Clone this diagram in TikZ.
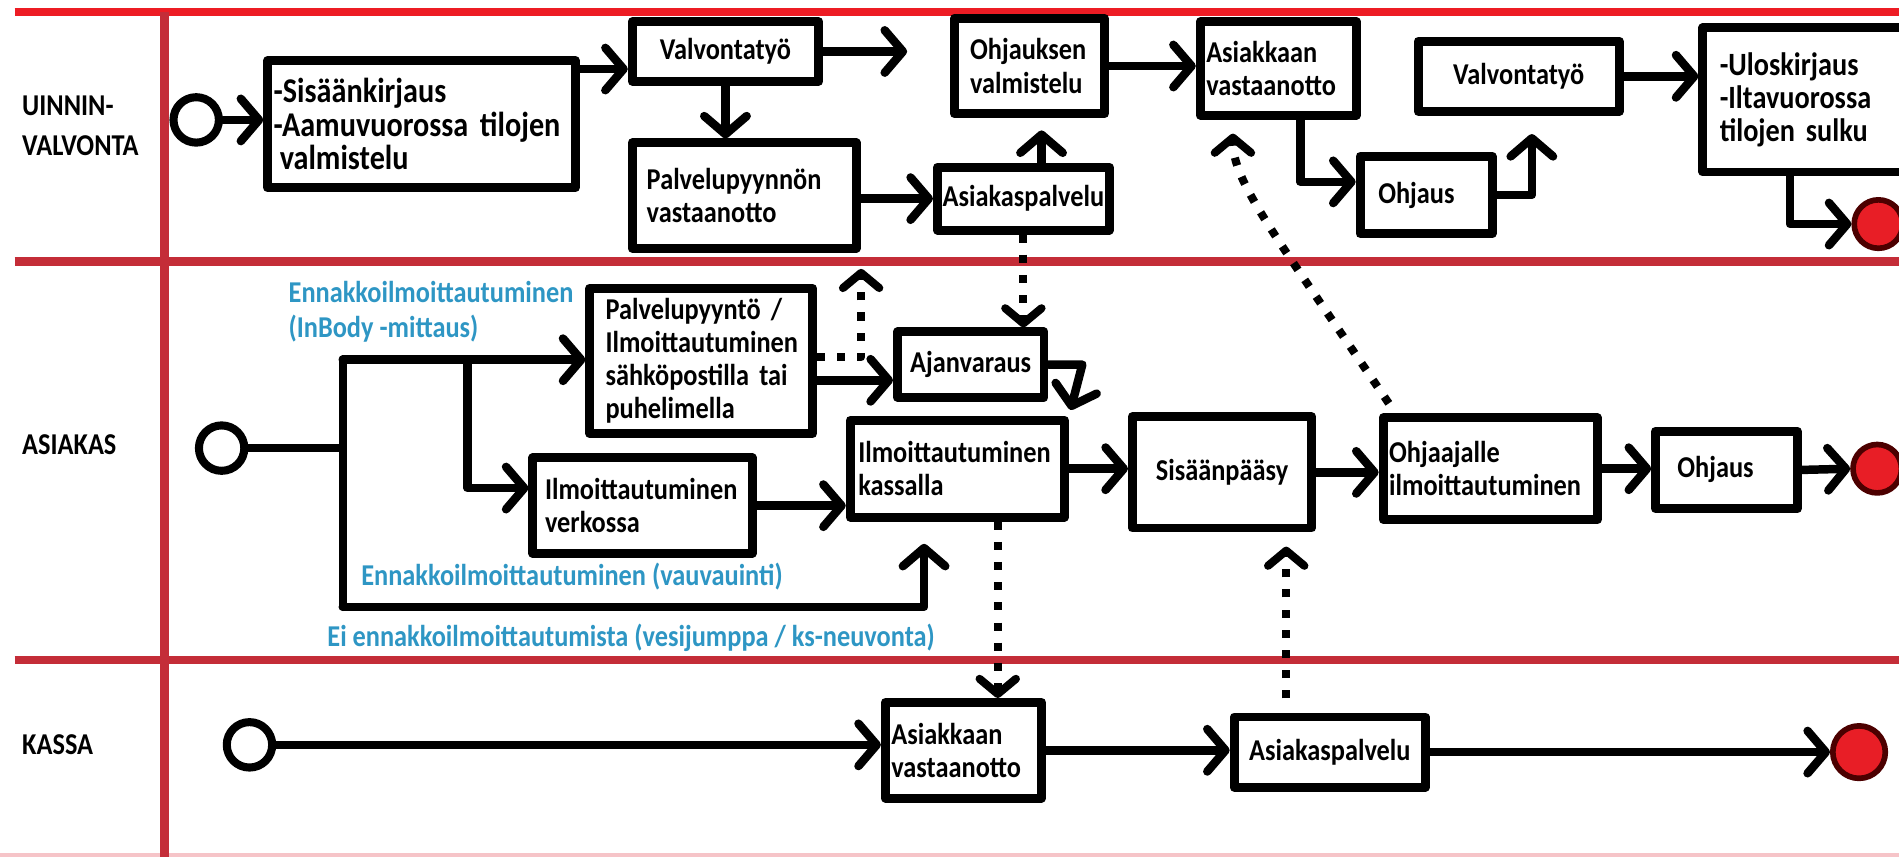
\documentclass[tikz,border=0pt]{standalone}
\usepackage{fontspec}
\setmainfont{Carlito}[FakeStretch=0.87]
\usetikzlibrary{arrows.meta}
\definecolor{lanered}{RGB}{237,28,36}
\definecolor{lanedark}{RGB}{196,45,56}
\definecolor{lanepink}{RGB}{246,196,200}
\definecolor{noteblue}{RGB}{46,150,196}
\definecolor{endred}{RGB}{232,30,38}

\begin{document}
\begin{tikzpicture}[line cap=round,line join=round,x=0.6pt,y=-0.6pt,
  box/.style={draw,line width=4.4pt,inner sep=0pt,align=center,font=\bfseries\fontsize{15}{16.5}\selectfont},
  startc/.style={circle,draw,line width=4pt,inner sep=0pt,minimum size=22.5pt},
  endc/.style={circle,draw=black!70!red,fill=endred,line width=2.8pt,inner sep=0pt,minimum size=24pt},
  arr/.style={line width=4.2pt,-{Straight Barb[length=9pt,width=21pt,round]}},
  dotarr/.style={line width=4pt,line cap=butt,dash pattern=on 4pt off 6pt,-{Straight Barb[length=7.5pt,width=18pt,round]}},
  lane/.style={anchor=west,align=left,inner sep=0pt,font=\bfseries\fontsize{15}{20}\selectfont},
  note/.style={anchor=west,align=left,inner sep=0pt,text=noteblue,font=\bfseries\fontsize{15}{17.4}\selectfont}]
\useasboundingbox (0,0) rectangle (1568,708);
\clip (0,0) rectangle (1568,708);
% lanes
\draw[lanepink,line width=2pt] (0,706) -- (1568,706);
\draw[lanered,line width=4pt,line cap=butt] (12,10) -- (1568,10);
\draw[lanedark,line width=4.2pt,line cap=butt] (12,216) -- (1568,216);
\draw[lanedark,line width=4.2pt,line cap=butt] (12,545) -- (1568,545);
\draw[lanedark,line width=4.2pt,line cap=butt] (136,10) -- (136,708);
\node[lane] (lane1) at (18,104) {UINNIN-\\VALVONTA};
\node[lane] (lane2) at (18,367) {ASIAKAS};
\node[lane] (lane3) at (18,615) {KASSA};
% uinninvalvonta
\node[startc] (c1) at (162,99) {};
\node[box,inner xsep=3pt,text width=146.4pt,minimum height=63pt,align=left,font=\bfseries\fontsize{17.2}{16.5}\selectfont] (sisaan) at (348,102.5) {-Sisäänkirjaus\\-Aamuvuorossa tilojen\\\hspace*{3pt}valmistelu};
\node[box,minimum width=92.4pt,minimum height=29.4pt] (valv1) at (599,42.5) {Valvontatyö};
\node[box,inner xsep=7.2pt,text width=96.6pt,minimum height=52.2pt,align=left] (palvpyy) at (614.5,161.5) {Palvelupyynnön\\vastaanotto};
\node[box,minimum width=85.2pt,minimum height=31.2pt] (asp1) at (845,164) {Asiakaspalvelu};
\node[box,inner xsep=7.8pt,text width=58.8pt,minimum height=47.4pt,align=left] (ohjval) at (850,54.5) {Ohjauksen\\valmistelu};
\node[box,inner xsep=3pt,text width=71.4pt,minimum height=46.2pt,align=left] (asvast1) at (1055.5,56.5) {Asiakkaan\\vastaanotto};
\node[box,inner xsep=9pt,text width=47.4pt,minimum height=38.4pt,align=left] (ohjaus1) at (1177.5,161) {Ohjaus};
\node[box,minimum width=99.6pt,minimum height=34.8pt] (valv2) at (1254,63) {Valvontatyö};
\node[box,inner xsep=8.4pt,text width=99.6pt,minimum height=71.4pt,align=left,font=\bfseries\fontsize{16.1}{16.5}\selectfont] (ulos) at (1503,82.5) {-Uloskirjaus\\-Iltavuorossa\\tilojen sulku};
\node[endc] (end1) at (1551,185) {};
\coordinate (v1end) at (749,42.5);
\draw[arr] (c1.east) -- (sisaan.west |- c1.east);
\draw[arr] (sisaan.east |- 0,57) -- (valv1.west |- 0,57);
\draw[arr] (valv1.east) -- (v1end);
\draw[arr] (valv1.south) -- (valv1.south |- palvpyy.north);
\draw[arr] (palvpyy.east |- asp1.west) -- (asp1.west);
\draw[arr,shorten >=6pt] ([xshift=9pt]asp1.north) -- ([xshift=9pt]asp1.north |- ohjval.south);
\draw[arr] (ohjval.east) -- (ohjval.east -| asvast1.west);
\draw[arr] ([xshift=11pt]asvast1.south) |- ([yshift=6.5pt]ohjaus1.west);
\draw[arr,shorten >=9pt] (ohjaus1.east) -| ([xshift=6.5pt]valv2.south);
\draw[arr] (valv2.east) -- (valv2.east -| ulos.west);
\draw[arr] ([xshift=-15pt]ulos.south) |- (end1.west);
% asiakas
\node[note] (note1) at (238,257.5) {Ennakkoilmoittautuminen\\(InBody -mittaus)};
\node[note] (note2) at (298,476) {Ennakkoilmoittautuminen (vauvauinti)};
\node[note] (note3) at (270,527) {Ei ennakkoilmoittautumista (vesijumppa / ks-neuvonta)};
\node[startc] (c2) at (183,370) {};
\node[box,inner xsep=7.8pt,text width=94.8pt,minimum height=72pt,align=left,font=\bfseries\fontsize{15}{16.4}\selectfont] (palvto) at (579,298) {Palvelupyyntö /\\Ilmoittautuminen\\sähköpostilla tai\\puhelimella};
\node[box,inner xsep=6pt,text width=96.6pt,minimum height=47.4pt,align=left] (verk) at (530.5,417.5) {Ilmoittautuminen\\verkossa};
\node[box,minimum width=72.6pt,minimum height=32.4pt] (ajan) at (801.5,301) {Ajanvaraus};
\node[box,inner xsep=4pt,text width=98.2pt,minimum height=48pt,align=left] (kass) at (790.5,387) {Ilmoittautuminen\\kassalla};
\node[box,minimum width=88.8pt,minimum height=55.2pt] (sisp) at (1009,390) {Sisäänpääsy};
\node[box,inner xsep=3pt,text width=100.2pt,minimum height=50.4pt,align=left] (ohja) at (1230.5,387) {Ohjaajalle\\ilmoittautuminen};
\node[box,inner xsep=10.8pt,text width=48.6pt,minimum height=38.4pt,align=left] (ohjaus2) at (1425.5,388) {Ohjaus};
\node[endc] (end2) at (1550,387) {};
\coordinate (j0) at (283,297);
\coordinate (j2) at (283,501);
\coordinate (j3) at (386,297);
\draw[line width=4.2pt] (c2.east) -- (c2.east -| j0);
\draw[line width=4.2pt] (j0) -- (j2);
\draw[arr] (j0) -- (palvto.west |- j0);
\draw[arr] (j3) |- ([yshift=8.7pt]verk.west);
\draw[arr,shorten >=11pt] (j2) -| ([xshift=-16.5pt]kass.south);
\draw[arr] (palvto.east |- 0,314) -- (ajan.west |- 0,314);
\draw[arr] (verk.east) -- (verk.east -| kass.west);
\draw[arr,shorten >=3pt] (ajan.east) -- ++(28,0) -- (kass.north east);
\draw[arr] (kass.east) -- (kass.east -| sisp.west);
\draw[arr] (sisp.east) -- (sisp.east -| ohja.west);
\draw[arr] (ohja.east) -- (ohja.east -| ohjaus2.west);
\draw[arr] (ohjaus2.east) -- (end2.west);
% kassa
\node[startc] (c3) at (206,615) {};
\node[box,inner xsep=3pt,text width=71.4pt,minimum height=47.4pt,align=left] (asvast2) at (795.5,619.5) {Asiakkaan\\vastaanotto};
\node[box,minimum width=94.8pt,minimum height=34.8pt] (asp2) at (1098,621) {Asiakaspalvelu};
\node[endc,minimum size=26pt] (end3) at (1535,621) {};
\draw[arr] (c3.east) -- (c3.east -| asvast2.west);
\draw[arr] (asvast2.east) -- (asvast2.east -| asp2.west);
\draw[arr] (asp2.east) -- (end3.west);
% dotted links between lanes
\coordinate (d1) at (711,222);
\draw[dotarr] (palvto.east |- 0,295) -| (d1);
\draw[dotarr] (asp1.south) -- (asp1.south |- ajan.north);
\draw[dotarr] ([xshift=20pt]kass.south) -- ([xshift=20pt]kass.south |- asvast2.north);
\draw[dotarr,shorten <=7pt,shorten >=7pt] ([xshift=-21.6pt]asp2.north) -- ([xshift=-21.6pt]asp2.north |- sisp.south);
\draw[dotarr,shorten <=6pt,shorten >=7pt] ([xshift=8.4pt]ohja.north west) .. controls (1050,190) and (1018,150) .. ([xshift=-22.5pt]asvast1.south);
\end{tikzpicture}
\end{document}
